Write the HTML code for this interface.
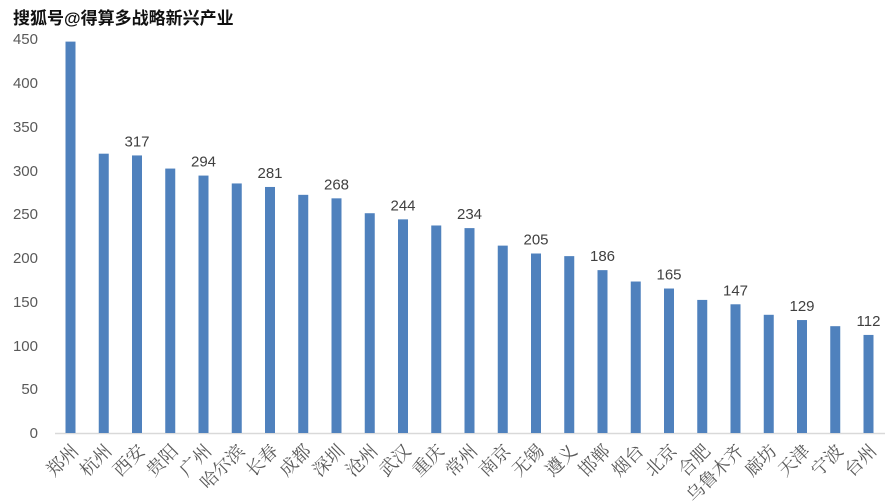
<!DOCTYPE html>
<html><head><meta charset="utf-8"><style>
html,body{margin:0;padding:0;background:#fff;}
svg{display:block;}
.y{font-family:"Liberation Sans",sans-serif;font-size:15px;fill:#595959;}
.v{font-family:"Liberation Sans",sans-serif;font-size:15px;fill:#404040;}
.c{font-family:"Liberation Serif","Noto Serif CJK SC",serif;font-size:18px;fill:#595959;}
.t{font-family:"Liberation Sans","Noto Sans CJK SC",sans-serif;font-size:17px;font-weight:bold;fill:#111;}
</style></head><body>
<svg width="888" height="501" xmlns="http://www.w3.org/2000/svg">
<text class="t" x="13" y="24">搜狐号@得算多战略新兴产业</text>
<g class="y" text-anchor="end">
<text x="38" y="44">450</text><text x="38" y="88">400</text><text x="38" y="132">350</text>
<text x="38" y="176">300</text><text x="38" y="219">250</text><text x="38" y="263">200</text>
<text x="38" y="307">150</text><text x="38" y="351">100</text><text x="38" y="394">50</text>
<text x="38" y="438">0</text>
</g>
<line x1="55" y1="433.5" x2="885" y2="433.5" stroke="#d9d9d9" stroke-width="1.5"/>
<g fill="#4f81bd" id="bars"></g>
<g id="lab"></g>
</svg>
<script>
var d=[["郑州",447],["杭州",319],["西安",317,1],["贵阳",302],["广州",294,1],["哈尔滨",285],["长春",281,1],["成都",272],["深圳",268,1],["沧州",251],["武汉",244,1],["重庆",237],["常州",234,1],["南京",214],["无锡",205,1],["遵义",202],["邯郸",186,1],["烟台",173],["北京",165,1],["合肥",152],["乌鲁木齐",147,1],["廊坊",135],["天津",129,1],["宁波",122],["台州",112,1]];
var ns="http://www.w3.org/2000/svg",b=document.getElementById("bars"),l=document.getElementById("lab");
d.forEach(function(e,i){
 var cx=70.5+i*33.25,h=e[1]*0.8756,y=433-h;
 var r=document.createElementNS(ns,"rect");r.setAttribute("x",cx-5);r.setAttribute("y",y);r.setAttribute("width",10);r.setAttribute("height",h);b.appendChild(r);
 if(e[2]){var t=document.createElementNS(ns,"text");t.setAttribute("class","v");t.setAttribute("x",cx);t.setAttribute("y",y-9);t.setAttribute("text-anchor","middle");t.textContent=e[1];l.appendChild(t);}
 var c=document.createElementNS(ns,"text");c.setAttribute("class","c");c.setAttribute("text-anchor","end");
 c.setAttribute("transform","translate("+(cx+9)+",452) rotate(-45)");c.textContent=e[0];l.appendChild(c);
});
</script>
</body></html>
